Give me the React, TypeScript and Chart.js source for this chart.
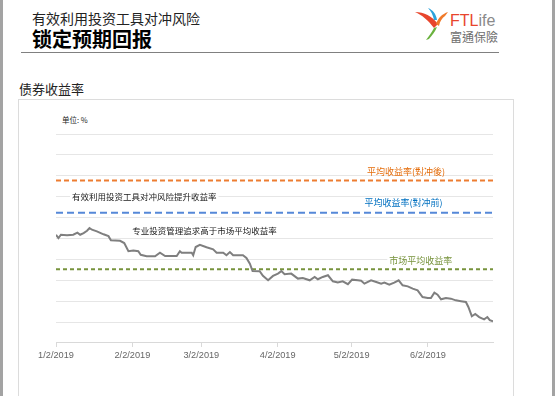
import React, { useEffect, useRef } from "react";
import { Chart, registerables } from "chart.js";

Chart.register(...registerables);

// Days since 1/2/2019 for each observation
const dayOffsets = [
  0, 1, 2, 4.5, 7, 8.7, 9.8, 11.2, 12.6, 13.6,
  14.6, 16.6, 19.3, 21.3, 22.3, 26, 27.7, 29.4, 31.4, 33.4,
  34.4, 36.8, 40.2, 42.2, 44.3, 49, 50.3, 51, 55.1, 55.7,
  56.7, 58.4, 61.1, 63.8, 65.2, 67.9, 69.2, 70.6, 71.9, 75.9,
  77.3, 78.7, 79.8, 82.7, 84, 86.1, 88.1, 90.1, 91.5, 92.8,
  95.5, 98.2, 100.2, 103, 105, 106.3, 108.3, 110.4, 112.4, 114.4,
  116.4, 118.5, 120.2, 122.5, 123.9, 125.2, 127.9, 130, 132, 133.3,
  135.3, 137.3, 139.1, 140.7, 142.8, 144.8, 146.8, 148.8, 150.9, 152.2,
  153.6, 154.9, 156.3, 158.3, 160.3, 162.3, 164.4, 166.4, 167.4, 168.8,
  170.2, 171.8, 173.8, 175.1, 176.1, 177.4,
];

// Bond yield (chart units; axis labels hidden in the source)
const yieldValues = [
  5.18, 5.02, 5.18, 5.15, 5.18, 5.28, 5.18, 5.26, 5.37, 5.5,
  5.42, 5.34, 5.2, 5.11, 4.91, 4.89, 4.78, 4.39, 4.42, 4.39,
  4.22, 4.15, 4.15, 4.32, 4.16, 4.16, 4.39, 4.32, 4.32, 4.2,
  4.59, 4.7, 4.58, 4.48, 4.32, 4.32, 4.2, 4.35, 4.2, 4.2,
  4.07, 3.79, 3.44, 3.43, 3.21, 3.0, 3.21, 3.32, 3.44, 3.29,
  3.32, 3.08, 3.11, 3.0, 3.16, 3.05, 3.16, 3.24, 2.95, 2.89,
  2.95, 2.81, 3.03, 3.0, 2.98, 2.84, 3.0, 2.92, 2.84, 2.89,
  2.79, 2.89, 3.0, 2.76, 2.71, 2.6, 2.52, 2.2, 2.15, 2.15,
  2.41, 2.31, 2.09, 2.15, 2.12, 2.04, 2.0, 1.96, 1.72, 1.28,
  1.39, 1.24, 1.13, 1.24, 1.09, 1.04,
];

const tickDays = [0, 31, 59, 90, 120, 151];
const tickLabels = ["1/2/2019", "2/2/2019", "3/2/2019", "4/2/2019", "5/2/2019", "6/2/2019"];

const hedgedAverage = 7.77;
const unhedgedAverage = 6.23;
const marketAverage = 3.53;

const noteTexts = [
  "有效利用投资工具对冲风险提升收益率",
  "专业投资管理追求高于市场平均收益率",
  "平均收益率(對冲後)",
  "平均收益率(對冲前)",
  "市场平均收益率",
];
const noteDays = [6.5, 31, 126.2, 125.2, 135.3];
const noteValues = [7.0, 5.37, 8.2, 6.71, 3.95];

const noteStyles = [
  { color: "#1a1a1a", font: '8.5px "Noto Sans CJK SC"', bg: true, extend: false },
  { color: "#1a1a1a", font: '8.5px "Noto Sans CJK SC"', bg: false, extend: false },
  { color: "#e46c0a", font: '9px "Noto Sans CJK TC"', bg: false, extend: false },
  { color: "#0070c0", font: '9px "Noto Sans CJK TC"', bg: false, extend: false },
  { color: "#77933c", font: '9px "Noto Sans CJK SC"', bg: true, extend: true },
];

const notePlugin = {
  id: "notes",
  beforeDatasetsDraw(chart: any) {
    const { ctx, scales, chartArea } = chart;
    ctx.save();
    noteTexts.forEach((t, i) => {
      const st = noteStyles[i];
      if (!st.bg) return;
      ctx.font = st.font;
      const px = scales.x.getPixelForValue(noteDays[i]);
      const py = scales.y.getPixelForValue(noteValues[i]);
      const w = ctx.measureText(t).width;
      const right = st.extend ? chartArea.right : px + w + 2;
      ctx.fillStyle = "#ffffff";
      ctx.fillRect(px - 2, py - 5, right - px + 2, 10);
    });
    ctx.restore();
  },
  afterDatasetsDraw(chart: any) {
    const { ctx, scales } = chart;
    ctx.save();
    noteTexts.forEach((t, i) => {
      const st = noteStyles[i];
      ctx.font = st.font;
      ctx.fillStyle = st.color;
      ctx.textAlign = "left";
      ctx.textBaseline = "middle";
      ctx.fillText(t, scales.x.getPixelForValue(noteDays[i]), scales.y.getPixelForValue(noteValues[i]));
    });
    ctx.restore();
  },
};

function Logo() {
  return (
    <>
      <svg
        width={36}
        height={36}
        viewBox="0 0 36 36"
        style={{ position: "absolute", left: 414, top: 5 }}
      >
        <path d="M1 7 C10 7 18 11 24 19 L20 23 C14 15 8 10 1 7 Z" fill="#e8452c" />
        <path d="M14 3 C19 5 22 9 23 15 L20 15 C19 10 17 6 14 3 Z" fill="#2aa3dc" />
        <path d="M22 19 C24 13 28 9 34 7 L31 11 C28 13 26 16 25 21 Z" fill="#f07a2a" />
        <path d="M20 23 C18 27 15 31 12 35 L15 34 C18 30 21 27 23 22 Z" fill="#6ab23e" />
      </svg>
      <div
        style={{
          position: "absolute",
          left: 450,
          top: 12,
          fontFamily: '"Liberation Sans", Arial, sans-serif',
          fontSize: 16,
          lineHeight: "17px",
          whiteSpace: "nowrap",
        }}
      >
        <span style={{ color: "#e8452c" }}>FTL</span>
        <span style={{ color: "#8a8a8a", fontWeight: 300 }}>ife</span>
      </div>
      <div
        style={{
          position: "absolute",
          left: 450,
          top: 30,
          fontSize: 12,
          lineHeight: "14px",
          color: "#6e6e6e",
          whiteSpace: "nowrap",
          fontFamily: '"Noto Sans CJK TC", sans-serif',
        }}
      >
        富通保險
      </div>
    </>
  );
}

export default function App() {
  const ref = useRef<HTMLCanvasElement>(null);

  useEffect(() => {
    const canvas = ref.current;
    if (!canvas) return;
    const maxDay = dayOffsets[dayOffsets.length - 1];
    const flat = (v: number) => [
      { x: 0, y: v },
      { x: maxDay, y: v },
    ];
    const chart = new Chart(canvas, {
      type: "line",
      data: {
        datasets: [
          {
            label: "平均收益率(對冲後)",
            data: flat(hedgedAverage),
            borderColor: "#ed7d31",
            borderWidth: 2,
            borderDash: [5, 3],
            pointRadius: 0,
            order: 3,
          },
          {
            label: "平均收益率(對冲前)",
            data: flat(unhedgedAverage),
            borderColor: "#5588d8",
            borderWidth: 2,
            borderDash: [7, 4],
            pointRadius: 0,
            order: 2,
          },
          {
            label: "市场平均收益率",
            data: flat(marketAverage),
            borderColor: "#77933c",
            borderWidth: 2,
            borderDash: [4, 3],
            pointRadius: 0,
            order: 1,
          },
          {
            label: "债券收益率",
            data: dayOffsets.map((d, i) => ({ x: d, y: yieldValues[i] })),
            borderColor: "#7f7f7f",
            borderWidth: 2,
            pointRadius: 0,
            tension: 0,
            order: 0,
          },
        ],
      },
      options: {
        animation: false,
        responsive: false,
        maintainAspectRatio: false,
        layout: { padding: { left: 37, right: 20, top: 34, bottom: 32 } },
        plugins: { legend: { display: false }, tooltip: { enabled: false } },
        scales: {
          x: {
            type: "linear",
            min: 0,
            max: maxDay,
            afterBuildTicks: (s: any) => {
              s.ticks = tickDays.map((v) => ({ value: v }));
            },
            ticks: {
              callback: (v: any) => {
                const idx = tickDays.indexOf(Number(v));
                return idx >= 0 ? tickLabels[idx] : "";
              },
              autoSkip: false,
              maxRotation: 0,
              padding: 3,
              color: "#666666",
              font: { family: '"Liberation Sans", Arial, sans-serif', size: 9.2 },
            },
            grid: { drawOnChartArea: false, drawTicks: true, tickLength: 4, color: "#d9d9d9" },
            border: { color: "#d9d9d9" },
          },
          y: {
            min: 0,
            max: 10,
            ticks: { stepSize: 1, display: false },
            grid: { color: "#e6e6e6", drawTicks: false },
            border: { display: false },
            afterFit: (s: any) => {
              s.width = 0;
            },
          },
        },
      },
      plugins: [notePlugin],
    } as any);
    return () => chart.destroy();
  }, []);

  return (
    <div
      style={{
        position: "relative",
        width: 555,
        height: 396,
        overflow: "hidden",
        background: "#ffffff",
        fontFamily: '"Noto Sans CJK SC", sans-serif',
      }}
    >
      <style>{`body{margin:0}`}</style>
      <div style={{ position: "absolute", left: 0, top: 0, width: 3, height: 396, background: "#a3a3a3" }} />
      <div style={{ position: "absolute", left: 552, top: 0, width: 3, height: 396, background: "#a3a3a3" }} />
      <div
        style={{
          position: "absolute",
          left: 32,
          top: 9,
          fontSize: 14,
          lineHeight: "18px",
          color: "#222",
          whiteSpace: "nowrap",
        }}
      >
        有效利用投资工具对冲风险
      </div>
      <div
        style={{
          position: "absolute",
          left: 32,
          top: 27,
          fontSize: 20,
          fontWeight: 700,
          lineHeight: "24px",
          color: "#000",
          whiteSpace: "nowrap",
        }}
      >
        锁定预期回报
      </div>
      <div style={{ position: "absolute", left: 21, top: 52, width: 478, height: 1, background: "#808080" }} />
      <Logo />
      <div
        style={{
          position: "absolute",
          left: 19,
          top: 80,
          fontSize: 13,
          lineHeight: "17px",
          color: "#222",
          whiteSpace: "nowrap",
        }}
      >
        债券收益率
      </div>
      <div
        style={{
          position: "absolute",
          left: 18,
          top: 99,
          width: 496,
          height: 320,
          border: "1px solid #dcdcdc",
          boxSizing: "border-box",
        }}
      />
      <div
        style={{
          position: "absolute",
          left: 62,
          top: 115,
          fontSize: 7.5,
          lineHeight: "10px",
          color: "#222",
          whiteSpace: "nowrap",
        }}
      >
        单位: %
      </div>
      <canvas ref={ref} width={494} height={296} style={{ position: "absolute", left: 19, top: 100 }} />
    </div>
  );
}
